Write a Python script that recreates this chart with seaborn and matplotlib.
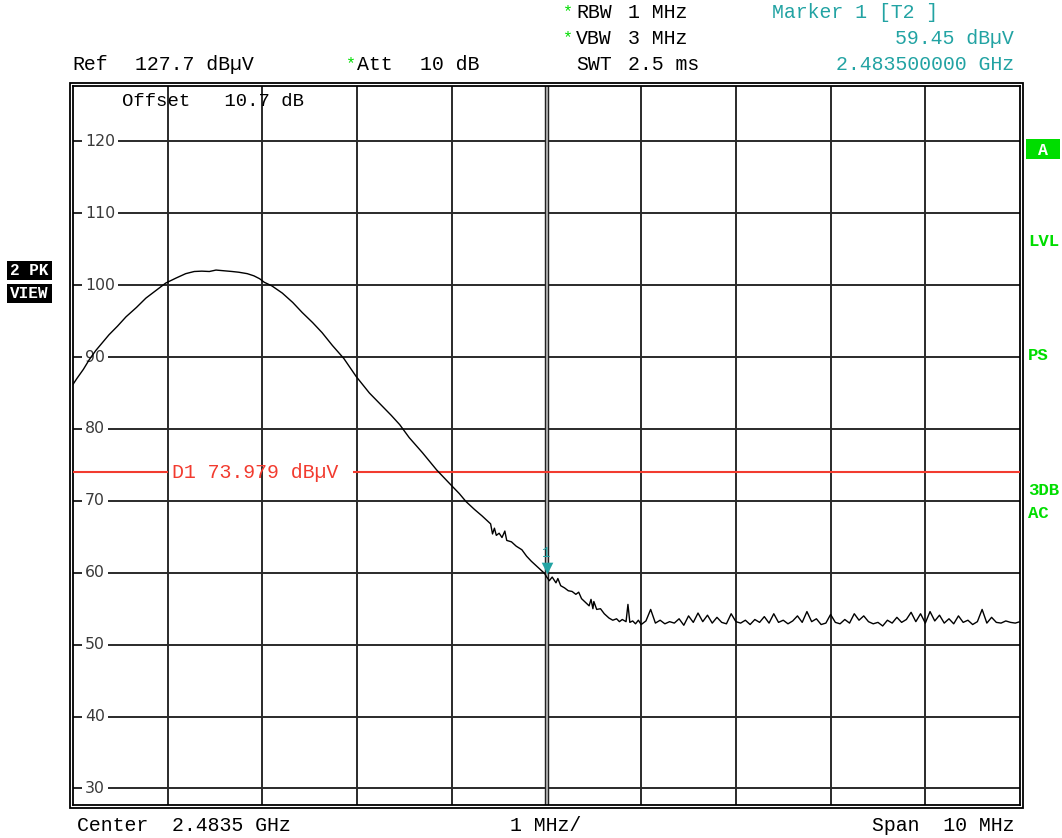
import numpy as np
import pandas as pd
import matplotlib
matplotlib.use("Agg")
import matplotlib.pyplot as plt
import matplotlib.transforms as mtransforms
from matplotlib.patches import Rectangle
import seaborn as sns

# --- trace data (offset from centre 2.4835 GHz, MHz) / level (dBuV) ---
freq_offset_mhz = [
    -5.00, -4.96, -4.89, -4.83, -4.76, -4.69, -4.62, -4.53, -4.44, -4.33,
    -4.23, -4.12, -4.02, -3.91, -3.81, -3.72, -3.64, -3.56, -3.49, -3.40,
    -3.32, -3.25, -3.16, -3.09, -3.03, -2.98, -2.90, -2.79, -2.68, -2.58,
    -2.47, -2.37, -2.26, -2.14, -2.01, -1.87, -1.73, -1.64, -1.55, -1.45,
    -1.31, -1.16, -1.03, -0.92, -0.85, -0.76, -0.68, -0.59, -0.57, -0.55,
    -0.53, -0.50, -0.47, -0.44, -0.42, -0.37, -0.32, -0.26, -0.21, -0.16,
    -0.11, -0.06, -0.02, 0.00, 0.03, 0.06, 0.10, 0.12, 0.15, 0.19,
    0.23, 0.27, 0.31, 0.34, 0.37, 0.41, 0.45, 0.47, 0.49, 0.50,
    0.53, 0.57, 0.61, 0.66, 0.70, 0.74, 0.77, 0.80, 0.84, 0.86,
    0.88, 0.91, 0.94, 0.97,
    1.00, 1.05, 1.10, 1.15, 1.20, 1.25, 1.30, 1.35, 1.40, 1.45,
    1.50, 1.55, 1.60, 1.65, 1.70, 1.75, 1.80, 1.85, 1.90, 1.95,
    2.00, 2.05, 2.10, 2.15, 2.20, 2.25, 2.30, 2.35, 2.40, 2.45,
    2.50, 2.55, 2.60, 2.65, 2.70, 2.75, 2.80, 2.85, 2.90, 2.95,
    3.00, 3.05, 3.10, 3.15, 3.20, 3.25, 3.30, 3.35, 3.40, 3.45,
    3.50, 3.55, 3.60, 3.65, 3.70, 3.75, 3.80, 3.85, 3.90, 3.95,
    4.00, 4.05, 4.10, 4.15, 4.20, 4.25, 4.30, 4.35, 4.40, 4.45,
    4.50, 4.55, 4.60, 4.65, 4.70, 4.75, 4.80, 4.85, 4.90, 4.95,
    5.00,
]
level_dbuv = [
    86.2, 87.0, 88.3, 89.6, 90.9, 92.0, 93.1, 94.3, 95.6, 96.9,
    98.2, 99.3, 100.3, 101.0, 101.6, 101.9, 101.95, 101.9, 102.1, 102.0,
    101.9, 101.8, 101.6, 101.3, 100.9, 100.4, 99.9, 98.9, 97.6, 96.2,
    94.8, 93.4, 91.6, 89.8, 87.3, 85.0, 83.1, 81.9, 80.6, 78.8,
    76.7, 74.3, 72.5, 71.0, 69.9, 68.8, 67.9, 66.8, 65.4, 66.2,
    65.2, 65.5, 64.9, 65.8, 64.5, 64.3, 63.7, 63.2, 62.3, 61.6,
    61.0, 60.4, 59.9, 59.45, 58.9, 59.4, 58.6, 59.2, 58.2, 57.9,
    57.5, 57.4, 57.0, 57.3, 56.4, 55.9, 55.4, 56.3, 55.0, 56.0,
    54.9, 55.0, 54.3, 53.7, 53.4, 53.6, 53.2, 53.5, 53.2, 55.6,
    53.1, 53.3, 52.9, 53.4,
    52.8, 53.3, 54.9, 53.0, 53.4, 52.9, 53.2, 53.0, 53.6, 52.7,
    54.0, 53.1, 54.4, 53.2, 54.1, 53.0, 53.8, 53.1, 52.9, 54.3,
    53.2, 53.0, 53.4, 52.8, 53.5, 53.1, 53.9, 53.0, 54.3, 53.1,
    53.4, 52.9, 53.3, 54.0, 53.1, 54.6, 53.2, 53.6, 52.8, 53.0,
    54.2, 53.1, 52.9, 53.5, 53.0, 54.3, 53.4, 54.0, 53.2, 52.9,
    53.1, 52.6, 53.4, 53.0, 53.8, 53.1, 53.5, 54.5, 53.2, 54.3,
    53.0, 54.6, 53.3, 54.1, 53.0, 53.6, 52.9, 54.0, 53.1, 53.4,
    52.8, 53.2, 54.9, 53.0, 53.8, 53.1, 53.0, 53.3, 53.1, 53.0,
    53.2,
]

y_ticks = [30, 40, 50, 60, 70, 80, 90, 100, 110, 120]
x_divisions = [-4, -3, -2, -1, 0, 1, 2, 3, 4]
ref_level = 127.7
span_mhz = 10
d1_level = 73.979
marker_freq = [0.0]
marker_level = [59.45]

W, H = 1062, 838
MONO = ["Liberation Mono", "DejaVu Sans Mono"]
GREEN = "#00dd00"
TEAL = "#22a3a3"
RED = "#f23b2f"
FS = 14.3

sns.set_style("white")
plt.rcParams["font.family"] = ["DejaVu Sans"]

fig = plt.figure(figsize=(W / 100, H / 100), dpi=100)
ax = fig.add_axes([73 / W, 1 - 805 / H, 947 / W, 719 / H])

df = pd.DataFrame({"freq": freq_offset_mhz, "level": level_dbuv})
sns.lineplot(data=df, x="freq", y="level", color="black", linewidth=1.0,
             estimator=None, sort=False, ax=ax, zorder=6)

ax.set_xlim(-span_mhz / 2, span_mhz / 2)
ax.set_ylim(ref_level - 100, ref_level)
ax.set_xlabel("")
ax.set_ylabel("")
ax.set_xticks(x_divisions)
ax.set_yticks(y_ticks)
ax.set_xticklabels([])
ax.set_yticklabels([])
ax.tick_params(length=0)
ax.grid(True, color="#2a2a2a", linewidth=1.4)
ax.set_axisbelow(True)
for sp in ax.spines.values():
    sp.set_color("black")
    sp.set_linewidth(1.3)

# centre line is drawn double
ax.axvline(0, color="#222222", linewidth=3.2, zorder=2)
ax.axvline(0, color="#bdbdbd", linewidth=1.2, zorder=2.1)

# outer frame
fig.add_artist(Rectangle((70 / W, 1 - 808 / H), 953 / W, 725 / H,
                         transform=fig.transFigure, fill=False,
                         ec="black", lw=1.3))

# y labels inside the grid
blend = mtransforms.blended_transform_factory(ax.transAxes, ax.transData)
for v in y_ticks:
    ax.text(12 / 947, v, str(v), transform=blend, ha="left", va="center",
            fontsize=11.3, color="#3a3a3a", zorder=3,
            bbox=dict(fc="white", ec="none", pad=2.2))

# display line D1
ax.hlines(d1_level, -5, -4.0, color=RED, lw=1.5, zorder=4)
ax.hlines(d1_level, -2.04, 5, color=RED, lw=1.5, zorder=4)
ax.text(-3.955, d1_level, "D1 73.979 dBµV", color=RED, fontsize=FS,
        family=MONO, va="center", ha="left", zorder=5)

# marker 1
mk_off = mtransforms.offset_copy(ax.transData, fig=fig, x=0, y=6, units="points")
ax.scatter(marker_freq, marker_level, marker="v", s=70, color=TEAL,
           transform=mk_off, zorder=7, linewidths=0)
lbl_off = mtransforms.offset_copy(ax.transData, fig=fig, x=0, y=17, units="points")
ax.text(marker_freq[0], marker_level[0], "1", color=TEAL, fontsize=10,
        family=MONO, ha="center", va="center", transform=lbl_off, zorder=7)

ax.text(49 / 947, 1 - 15 / 719, "Offset   10.7 dB", transform=ax.transAxes,
        fontsize=13.6, family=MONO, va="center", ha="left", color="black")


def ftext(x, y, s, color="black", ha="left", **kw):
    fig.text(x / W, 1 - y / H, s, color=color, ha=ha, va="center",
             family=MONO, fontsize=kw.pop("fontsize", FS), **kw)


# header
ftext(72, 65, "Ref")
ftext(135, 65, "127.7 dBµV")
ftext(346, 64, "*", color=GREEN, fontsize=12)
ftext(357, 65, "Att")
ftext(420, 65, "10 dB")
ftext(563, 12, "*", color=GREEN, fontsize=12)
ftext(576, 13, "RBW")
ftext(628, 13, "1 MHz")
ftext(563, 38, "*", color=GREEN, fontsize=12)
ftext(576, 39, "VBW")
ftext(628, 39, "3 MHz")
ftext(576, 65, "SWT")
ftext(628, 65, "2.5 ms")
ftext(772, 13, "Marker 1 [T2 ]", color=TEAL)
ftext(1014, 39, "59.45 dBµV", color=TEAL, ha="right")
ftext(1014, 65, "2.483500000 GHz", color=TEAL, ha="right")

# footer
ftext(77, 825, "Center  2.4835 GHz")
ftext(510, 825, "1 MHz/")
ftext(1014, 825, "Span  10 MHz", ha="right")

# left side boxes
for y0, s in [(261, "2 PK"), (284, "VIEW")]:
    fig.add_artist(Rectangle((7 / W, 1 - (y0 + 19) / H), 45 / W, 19 / H,
                             transform=fig.transFigure, fc="black", ec="none"))
    ftext(29.5, y0 + 9.5, s, color="white", ha="center", fontsize=11.5,
          fontweight="bold")

# right side annotations
fig.add_artist(Rectangle((1026 / W, 1 - 159 / H), 34 / W, 20 / H,
                         transform=fig.transFigure, fc=GREEN, ec="none"))
ftext(1043, 150, "A", color="white", ha="center", fontsize=12, fontweight="bold")
for y0, s in [(241, "LVL"), (355, "PS"), (490, "3DB"), (513, "AC")]:
    ftext(1028, y0, s, color=GREEN, fontsize=12.5, fontweight="bold")

fig.savefig("out.png", dpi=100)
